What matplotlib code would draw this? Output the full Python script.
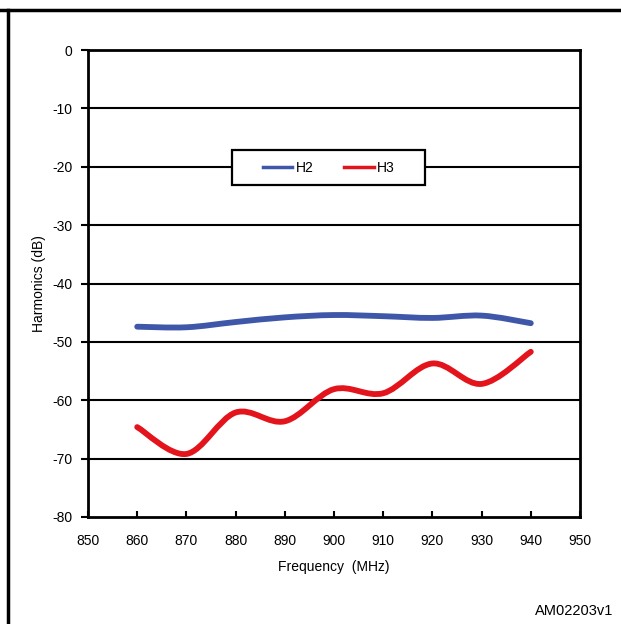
import matplotlib
matplotlib.use("Agg")
import matplotlib.pyplot as plt
from matplotlib.path import Path
from matplotlib.patches import PathPatch, Rectangle
from matplotlib.lines import Line2D

plt.rcParams['font.family'] = ['Liberation Sans', 'DejaVu Sans']
plt.rcParams['axes.unicode_minus'] = False

freq = [860, 870, 880, 890, 900, 910, 920, 930, 940]
h2 = [-47.4, -47.5, -46.6, -45.8, -45.4, -45.6, -45.9, -45.5, -46.8]
h3 = [-64.6, -69.2, -62.1, -63.6, -58.1, -58.8, -53.7, -57.2, -51.7]
xticks = [850, 860, 870, 880, 890, 900, 910, 920, 930, 940, 950]
yticks = [0, -10, -20, -30, -40, -50, -60, -70, -80]


def smooth_path(xs, ys):
    pts = list(zip(xs, ys))
    verts = [pts[0]]
    codes = [Path.MOVETO]
    n = len(pts)
    for i in range(n - 1):
        p0 = pts[i - 1] if i > 0 else pts[i]
        p1 = pts[i]
        p2 = pts[i + 1]
        p3 = pts[i + 2] if i + 2 < n else pts[i + 1]
        c1 = (p1[0] + (p2[0] - p0[0]) / 6, p1[1] + (p2[1] - p0[1]) / 6)
        c2 = (p2[0] - (p3[0] - p1[0]) / 6, p2[1] - (p3[1] - p1[1]) / 6)
        verts += [c1, c2, p2]
        codes += [Path.CURVE4] * 3
    return Path(verts, codes)


fig = plt.figure(figsize=(6.21, 6.24), dpi=100)
W, H = 621, 624
ax = fig.add_axes([88 / W, 1 - 517 / H, (580 - 88) / W, (517 - 50) / H])

ax.set_xlim(850, 950)
ax.set_ylim(-80, 0)
ax.set_xticks(xticks)
ax.set_yticks(yticks)
ax.tick_params(axis='x', direction='in', length=4, width=1.5, labelsize=10, pad=12)
ax.tick_params(axis='y', direction='out', length=5, width=1.5, labelsize=10, pad=6)
for s in ax.spines.values():
    s.set_linewidth(2)
    s.set_color('black')
for y in yticks[1:-1]:
    ax.axhline(y, color='black', lw=1.5, zorder=1)

for ys, col in [(h2, '#3F57A8'), (h3, '#E3141B')]:
    patch = PathPatch(smooth_path(freq, ys), facecolor='none', edgecolor=col,
                      lw=4.2, capstyle='round', joinstyle='round', zorder=3)
    ax.add_patch(patch)

# legend box
ax.add_patch(Rectangle((232 / W, 1 - 185 / H), (425 - 232) / W, (185 - 150) / H,
                       transform=fig.transFigure, facecolor='white', edgecolor='black',
                       lw=1.6, zorder=5, clip_on=False))
handles = [Line2D([], [], color='#3F57A8', lw=2.5), Line2D([], [], color='#E3141B', lw=2.5)]
leg = ax.legend(handles, ['H2', 'H3'], loc='center',
                bbox_to_anchor=((329 - 88) / (580 - 88), (517 - 167.5) / (517 - 50)),
                ncol=2, frameon=False, fontsize=10, handlelength=2.1,
                columnspacing=2.2, handletextpad=0.25, borderpad=0.0)
leg.set_zorder(6)

ax.set_xlabel('Frequency  (MHz)', fontsize=10, labelpad=9)
ax.set_ylabel('Harmonics (dB)', fontsize=10, labelpad=5)

fig.text(613 / W, 1 - 611 / H, 'AM02203v1', ha='right', va='center', fontsize=10.5)

fig.add_artist(Line2D([0, 1], [1 - 10 / H, 1 - 10 / H], color='black', lw=2.5, transform=fig.transFigure))
fig.add_artist(Line2D([8 / W, 8 / W], [0, 1 - 10 / H], color='black', lw=2.5, transform=fig.transFigure))

fig.savefig('out.png', dpi=100)
